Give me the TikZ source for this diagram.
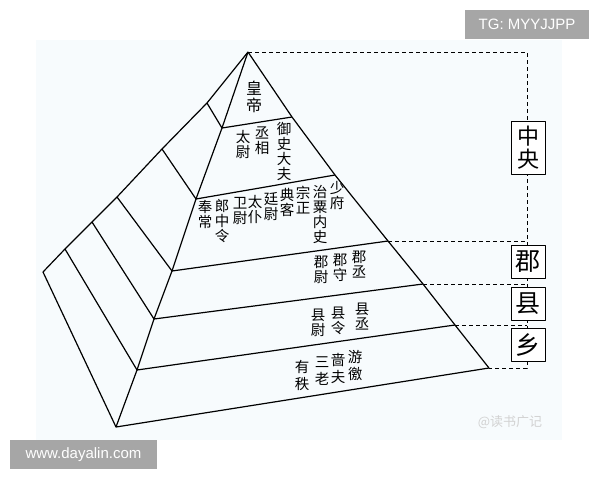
\documentclass[tikz,border=0pt]{standalone}
\usepackage{fontspec}
\setmainfont{Liberation Sans}
\newfontfamily\cjk{Noto Sans CJK SC}
\usepackage{tikz}
\usetikzlibrary{positioning}
\definecolor{panelbg}{RGB}{247,251,253}
\definecolor{wmgray}{RGB}{166,166,166}

\begin{document}
\begin{tikzpicture}[
  x=1pt, y=-1pt,
  line width=1.2pt, line join=round,
  col/.style={align=center,inner sep=0pt,anchor=north,font=\cjk\fontsize{14.5}{15}\selectfont},
  lvlbox/.style={draw,fill=white,line width=1pt,minimum width=34pt,minimum height=33pt,inner sep=0pt,align=center,font=\cjk\fontsize{25}{25}\selectfont},
  guide/.style={line width=1pt,dash pattern=on 4pt off 3pt},
  wmbox/.style={fill=wmgray,text=white,inner sep=0pt,font=\fontsize{15}{15}\selectfont}
]

\useasboundingbox (0,0) rectangle (600,480);
\fill[panelbg] (36,40) rectangle (562,440);

\coordinate (top) at (248,52);
\coordinate (l1) at (222,128);
\coordinate (l2) at (196,199);
\coordinate (l3) at (172,271);
\coordinate (l4) at (154,319);
\coordinate (l5) at (137,370);
\coordinate (l6) at (116,427);
\coordinate (r1) at (292,117);
\coordinate (r2) at (335,175);
\coordinate (r3) at (388,241);
\coordinate (r4) at (423,284);
\coordinate (r5) at (455,325);
\coordinate (r6) at (489,368);
\coordinate (b1) at (207,103);
\coordinate (b2) at (162,149);
\coordinate (b3) at (117,197);
\coordinate (b4) at (92,222);
\coordinate (b5) at (65,249);
\coordinate (b6) at (43,272);
\coordinate (g0) at (527,52);
\coordinate (g6) at (527,368);

\draw (top) -- (b1) -- (b2) -- (b3) -- (b4) -- (b5) -- (b6);
\draw (top) -- (l1) -- (l2) -- (l3) -- (l4) -- (l5) -- (l6);
\draw (top) -- (r1) -- (r2) -- (r3) -- (r4) -- (r5) -- (r6);
\foreach \i in {1,...,6}
  \draw (b\i) -- (l\i) -- (r\i);

\draw[guide] (top) -- (g0) -- (g6) -- (r6);
\foreach \i in {3,4,5}
  \draw[guide] (r\i) -- (r\i -| g0);

\node[lvlbox, minimum height=53pt, font=\cjk\fontsize{22}{23}\selectfont] (zhongyang) at (528,147.5) {中\\央};
\node[lvlbox] (jun) at (528,261.5) {郡};
\node[lvlbox] (xian) at (528,303.5) {县};
\node[lvlbox] (xiang) at (528,345) {乡};

\node[col, font=\cjk\fontsize{16}{17}\selectfont] (huangdi) at (254,80) {皇\\帝};

\node[col] (taiwei) at (243,130) {太\\尉};
\node[col] (chengxiang) at (262,126) {丞\\相};
\node[col] (yushi) at (284,122) {御\\史\\大\\夫};

\node[col] (fengchang) at (205,200) {奉\\常};
\node[col] (langzhong) at (222,199) {郎\\中\\令};
\node[col] (weiwei) at (240,197) {卫\\尉};
\node[col] (taipu) at (255,195) {太\\仆};
\node[col] (tingwei) at (271,192) {廷\\尉};
\node[col] (dianke) at (287,188) {典\\客};
\node[col] (zongzheng) at (303,186) {宗\\正};
\node[col] (zhisu) at (320,185) {治\\粟\\内\\史};
\node[col] (shaofu) at (337,181) {少\\府};

\node[col] (junwei) at (321,255) {郡\\尉};
\node[col] (junshou) at (340,253) {郡\\守};
\node[col] (juncheng) at (359,250) {郡\\丞};

\node[col] (xianwei) at (318,308) {县\\尉};
\node[col] (xianling) at (338,306) {县\\令};
\node[col] (xiancheng) at (362,302) {县\\丞};

\node[col, font=\cjk\fontsize{14.5}{17}\selectfont] (youzhi) at (302,360) {有\\秩};
\node[col, font=\cjk\fontsize{14.5}{17}\selectfont] (sanlao) at (322,356) {三\\老};
\node[col, font=\cjk\fontsize{14.5}{17}\selectfont] (sefu) at (338,353) {啬\\夫};
\node[col, font=\cjk\fontsize{14.5}{17}\selectfont] (youjiao) at (355,350) {游\\徼};

\node[wmbox, minimum width=124pt, minimum height=29pt] (tg) at (527,24.5) {TG: MYYJJPP};
\node[wmbox, minimum width=147pt, minimum height=29pt] (site) at (83.5,454.5) {www.dayalin.com};
\node[text=gray!35, font=\cjk\fontsize{13}{13}\selectfont] (source) at (510,422) {@读书广记};

\end{tikzpicture}
\end{document}
